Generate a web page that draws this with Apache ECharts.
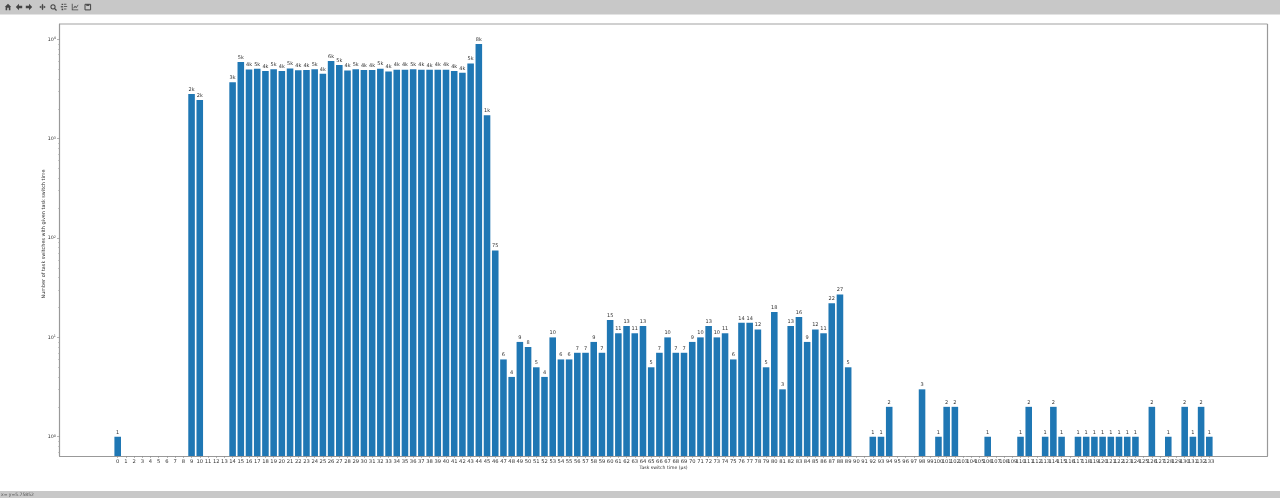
<!DOCTYPE html>
<html><head><meta charset="utf-8">
<style>html,body{margin:0;padding:0;background:#fff}#c{width:1280px;height:498px}</style>
<script src="https://cdn.jsdelivr.net/npm/echarts@6/dist/echarts.min.js"></script>
</head><body><div id="c"></div>
<script>
const binStart = 0;
const countsA = [1,null,null,null,null,null,null,null,null,2812,2450,null,null,null,3690,5900,4980,5040,4800,5010,4800,5080,4880,4900,5010,4500,6050,5500,4850,5010,4900,4900,5060,4750,4950,4950,5000,4950,4930,4950,4950,4800,4600,5700,8950,1720,75];
const countsB = [6,4,9,8,5,4,10,6,6,7,7,9,7,15,11,13,11,13,5,7,10,7,7,9,10,13,10,11,6,14,14,12,5,18,3,13,16,9,12,11,22,27,5];
const countsC = [null,null,1,1,2,null,null,null,3,null,1,2,2,null,null,null,1,null,null,null,1,2,null,1,2,1,null,1,1,1,1,1,1,1,1,null,2,null,1,null,2,1,2,1];
const counts = countsA.concat(countsB, countsC);
const xTicks = counts.map((_, i) => binStart + i);
const majorTicks = [1, 10, 100, 1000, 10000];
const minorTicks = [0.7,0.8,0.9,2,3,4,5,6,7,8,9,20,30,40,50,60,70,80,90,200,300,400,500,600,700,800,900,2000,3000,4000,5000,6000,7000,8000,9000];
const xTitle = 'Task switch time (μs)';
const yTitle = 'Number of task switches with given task switch time';
const statusText = 'x= y=5.75852';

const fmt = v => v >= 1000 ? Math.floor(v / 1000) + 'k' : String(v);
const TXT = '#333';
const poly = (x, pts) => ({type:'polygon', x:x-3.2, y:3.8, scaleX:.8, scaleY:.8, shape:{points:pts}, style:{fill:'#444'}, silent:true});
const chart = echarts.init(document.getElementById('c'), null, {renderer:'canvas'});
chart.setOption({
  animation:false,
  backgroundColor:'#fff',
  grid:{left:59.5, right:12.5, top:24, bottom:42, containLabel:false},
  xAxis:{
    type:'value', min:-7.09, max:140.09, name:xTitle, nameLocation:'middle', nameGap:9, nameMoveOverlap:false,
    nameTextStyle:{fontSize:4.6, color:TXT, fontFamily:'DejaVu Sans'},
    splitLine:{show:false},
    axisLine:{show:true, onZero:false, lineStyle:{color:'#999', width:1}},
    axisTick:{show:true, length:2, lineStyle:{color:'#888', width:.6}, customValues:xTicks},
    axisLabel:{customValues:xTicks.concat(xTicks.length), fontSize:5.2, color:TXT, margin:3, fontFamily:'DejaVu Sans', hideOverlap:false,
      formatter:v=>v<xTicks.length?String(v):''}
  },
  yAxis:[{
    type:'log', logBase:10, min:0.64, max:14256, startValue:0.64, name:yTitle, nameLocation:'middle', nameGap:13, nameMoveOverlap:false,
    nameTextStyle:{fontSize:4.9, color:TXT, fontFamily:'DejaVu Sans', padding:[0,0,0,12]},
    splitLine:{show:false},
    axisLine:{show:true, onZero:false, lineStyle:{color:'#999', width:1.2}},
    axisTick:{show:true, length:2.5, lineStyle:{color:'#888', width:.6}, customValues:majorTicks},
    axisLabel:{customValues:majorTicks, margin:3.5, fontSize:4.8, color:TXT, fontFamily:'DejaVu Sans',
      formatter:v=>'10{s|'+Math.round(Math.log10(v))+'}', rich:{s:{fontSize:3.4, color:TXT, verticalAlign:'top', padding:[0,0,2,0]}}}
  },{
    type:'log', logBase:10, min:0.64, max:14256, startValue:0.64, position:'left', splitLine:{show:false},
    axisLine:{show:false, onZero:false},
    axisTick:{show:true, length:1.5, lineStyle:{color:'#aaa', width:.6}, customValues:minorTicks},
    axisLabel:{show:false, customValues:minorTicks}
  }],
  series:[{
    type:'bar', barWidth:6.57, yAxisIndex:0,
    data:counts.map((v,i)=>[xTicks[i], v]),
    itemStyle:{color:'#1f77b4'},
    label:{show:true, position:'top', distance:2, fontSize:5, color:TXT, fontFamily:'DejaVu Sans',
      formatter:p=>p.value[1]==null?'':fmt(p.value[1])}
  }],
  graphic:[
    {type:'rect', shape:{x:0,y:0,width:1280,height:14.5}, style:{fill:'#c8c8c8'}, silent:true},
    {type:'rect', shape:{x:0,y:491,width:1280,height:7}, style:{fill:'#c8c8c8'}, silent:true},
    {type:'line', shape:{x1:59.5,y1:24,x2:1267.5,y2:24}, style:{stroke:'#d0d0d0', lineWidth:2}, silent:true},
    {type:'line', shape:{x1:1267.5,y1:24,x2:1267.5,y2:456}, style:{stroke:'#999', lineWidth:1.2}, silent:true},
    poly(8, [[4,0],[8,4],[7,4],[7,8],[5,8],[5,5],[3,5],[3,8],[1,8],[1,4],[0,4]]),
    poly(19, [[0,4],[4,0],[4,2.5],[8,2.5],[8,5.5],[4,5.5],[4,8]]),
    poly(29, [[8,4],[4,0],[4,2.5],[0,2.5],[0,5.5],[4,5.5],[4,8]]),
    poly(42.5, [[4,0],[5.5,2],[4.6,2],[4.6,3.4],[6,3.4],[6,2.5],[8,4],[6,5.5],[6,4.6],[4.6,4.6],[4.6,6],[5.5,6],[4,8],[2.5,6],[3.4,6],[3.4,4.6],[2,4.6],[2,5.5],[0,4],[2,2.5],[2,3.4],[3.4,3.4],[3.4,2],[2.5,2]]),
    {type:'ring', shape:{cx:53,cy:6.8,r:2.6,r0:1.6}, style:{fill:'#444'}, silent:true},
    {type:'line', shape:{x1:54.5,y1:8.3,x2:56.5,y2:10.5}, style:{stroke:'#444',lineWidth:1.2}, silent:true},
    poly(64, [[1,0],[3,0],[3,1.5],[1,1.5]]),
    poly(64, [[4,0],[7,0],[7,1],[4,1]]),
    poly(64, [[0,3],[3,3],[3,4.5],[0,4.5]]),
    poly(64, [[4,3],[8,3],[8,4],[4,4]]),
    poly(64, [[1,6],[3,6],[3,8],[1,8]]),
    poly(64, [[4,6],[7,6],[7,7],[4,7]]),
    poly(75, [[0,0],[1,0],[1,7],[8,7],[8,8],[0,8]]),
    poly(75, [[2,5],[4,2.5],[5.5,4],[8,0.8],[8,2.2],[5.6,5.4],[4,4],[2.5,6]]),
    {type:'rect', shape:{x:85,y:4.3,width:5.6,height:5.6}, style:{fill:'none',stroke:'#444',lineWidth:1}, silent:true},
    {type:'rect', shape:{x:86.3,y:4.3,width:3,height:1.6}, style:{fill:'#444'}, silent:true},
    {type:'text', style:{x:1, y:492.2, text:statusText, fontSize:4.5, fill:'#555', fontFamily:'DejaVu Sans'}, silent:true}
  ]
});
</script></body></html>
